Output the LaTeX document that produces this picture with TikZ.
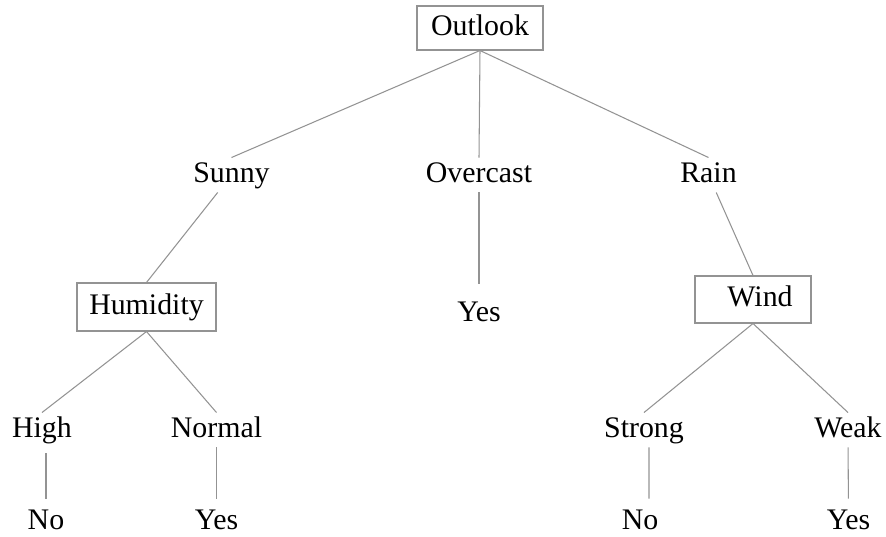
\documentclass[tikz,border=0pt]{standalone}
\usepackage{fontspec}
\setmainfont{Liberation Serif}
\usepackage{tikz}

\begin{document}
\begin{tikzpicture}[x=0.02cm, y=-0.02cm,
  every node/.style={font=\fontsize{17}{20}\selectfont, inner sep=2pt,
    text height=12pt, text depth=3.5pt},
  attr/.style={draw=gray!85, line width=0.6pt},
  branch/.style={draw=gray!85, line width=0.6pt}]
  \useasboundingbox (0,0) rectangle (886,537);

  % Root
  \node[attr, minimum width=2.52cm, minimum height=0.88cm] (outlook) at (480,28) {Outlook};

  % First level values
  \node (sunny) at (231.5,175) {Sunny};
  \node (overcast) at (479,175) {Overcast};
  \node (rain) at (708.5,175) {Rain};

  % Second level
  \node[attr, minimum width=2.78cm, minimum height=0.96cm] (humidity) at (146.5,307) {Humidity};
  \node (yesmid) at (479,314.5) {Yes};
  \node[attr, minimum width=2.32cm, minimum height=0.94cm] (wind) at (753,299.5) {\hspace{8pt}Wind};

  % Third level values
  \node (high) at (42,430) {High};
  \node (normal) at (216.5,430) {Normal};
  \node (strong) at (644,430) {Strong};
  \node (weak) at (848,430) {Weak};

  % Leaves
  \node (nohigh) at (46,522) {No};
  \node (yesnormal) at (216.5,522) {Yes};
  \node (nostrong) at (640,522) {No};
  \node (yesweak) at (848.5,522) {Yes};

  % Branches from the root
  \draw[branch] (outlook.south) -- (sunny.north);
  \draw[branch] (outlook.south) -- (overcast.north);
  \draw[branch] (outlook.south) -- (rain.north);

  \draw[branch] (sunny) -- (humidity.north);
  \draw[branch, shorten >=0.26cm] (overcast) -- (yesmid);
  \draw[branch] (rain) -- (wind.north);

  % Humidity and Wind splits
  \draw[branch] (humidity.south) -- (high.north);
  \draw[branch] (humidity.south) -- (normal.north);
  \draw[branch] (wind.south) -- (strong.north);
  \draw[branch] (wind.south) -- (weak.north);

  % Leaves
  \draw[branch, shorten <=0.12cm, shorten >=0.12cm] (high.south -| nohigh) -- (nohigh.north);
  \draw[branch, shorten >=0.12cm] (normal) -- (yesnormal);
  \draw[branch, shorten >=0.12cm] ([xshift=0.1cm]strong.south) -- ([xshift=0.18cm]nostrong.north);
  \draw[branch, shorten >=0.12cm] (weak) -- (yesweak);
\end{tikzpicture}
\end{document}
